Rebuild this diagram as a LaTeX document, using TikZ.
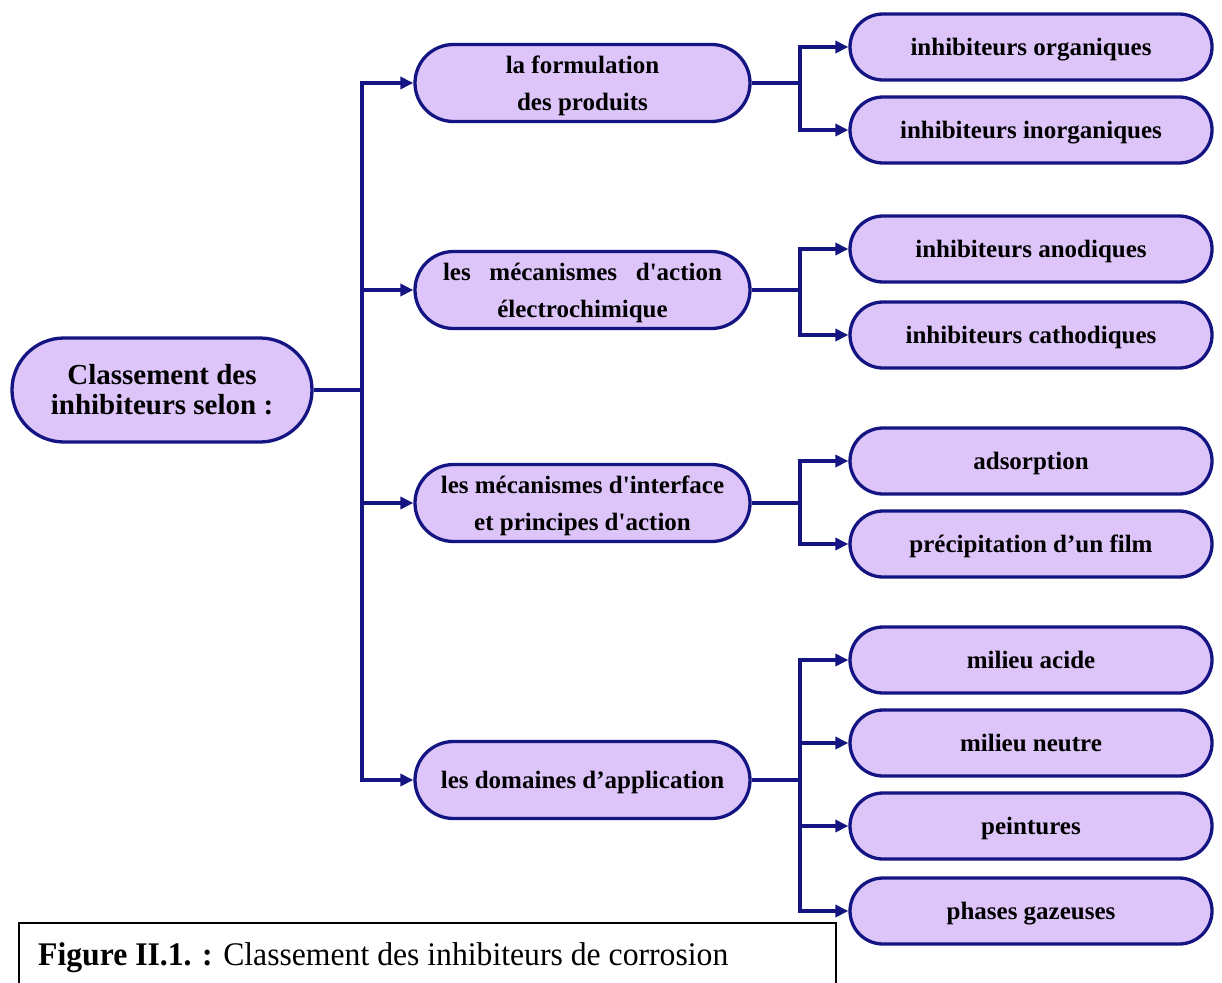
\documentclass[tikz,border=0pt]{standalone}
\usepackage{fontspec}
\setmainfont{Liberation Serif}
\usetikzlibrary{shapes.misc,arrows.meta}
\definecolor{navy}{RGB}{20,20,130}
\definecolor{lav}{RGB}{221,197,250}
\tikzset{
  box/.style={rounded rectangle, draw=navy, fill=lav, line width=3.3pt, inner sep=0pt, align=center, font=\bfseries},
  rootbox/.style={box, minimum width=300pt, minimum height=104pt, font=\bfseries\fontsize{29}{30}\selectfont},
  midbox/.style={box, minimum width=335pt, minimum height=77pt, text depth=0pt, font=\bfseries\fontsize{25}{37}\selectfont},
  leafbox/.style={box, minimum width=362pt, minimum height=66pt, text depth=0pt, font=\bfseries\fontsize{25}{30}\selectfont},
  conn/.style={draw=navy, line width=3.3pt},
  arr/.style={conn, -{Triangle[length=13pt,width=12pt]}},
}
\begin{document}
\begin{tikzpicture}[x=1pt,y=-1pt]
\clip (0,0) rectangle (1222,982);
\fill[white] (0,0) rectangle (1222,982);
% root
\node[rootbox] (root) at (162,390) {Classement des\\inhibiteurs selon :};
% mid nodes
\node[midbox] (m1) at (582.5,83) {la formulation\\des produits};
\node[midbox] (m2) at (582.5,290) {\makebox[279pt][s]{les mécanismes d\textquotesingle action}\\électrochimique};
\node[midbox] (m3) at (582.5,503) {les mécanismes d\textquotesingle interface\\et principes d\textquotesingle action};
\node[midbox] (m4) at (582.5,780) {les domaines d’application};
% leaves
\node[leafbox] (l1) at (1031,47) {inhibiteurs organiques};
\node[leafbox] (l2) at (1031,130) {inhibiteurs inorganiques};
\node[leafbox] (l3) at (1031,249) {inhibiteurs anodiques};
\node[leafbox] (l4) at (1031,335) {inhibiteurs cathodiques};
\node[leafbox] (l5) at (1031,461) {adsorption};
\node[leafbox] (l6) at (1031,544) {précipitation d’un film};
\node[leafbox] (l7) at (1031,660) {milieu acide};
\node[leafbox] (l8) at (1031,743) {milieu neutre};
\node[leafbox] (l9) at (1031,826) {peintures};
\node[leafbox] (l10) at (1031,911) {phases gazeuses};
% connectors
\coordinate (t) at (362,390);
\draw[conn] (root.east) -- (t);
\draw[arr] (t) |- (m1.west);
\draw[arr] (t) |- (m2.west);
\draw[arr] (t) |- (m3.west);
\draw[arr] (t) |- (m4.west);
\coordinate (b1) at (800,83);
\coordinate (b2) at (800,290);
\coordinate (b3) at (800,503);
\coordinate (b4) at (800,780);
\draw[conn] (m1.east) -- (b1);
\draw[conn] (m2.east) -- (b2);
\draw[conn] (m3.east) -- (b3);
\draw[conn] (m4.east) -- (b4);
\draw[arr] (b1) |- (l1.west);
\draw[arr] (b1) |- (l2.west);
\draw[arr] (b2) |- (l3.west);
\draw[arr] (b2) |- (l4.west);
\draw[arr] (b3) |- (l5.west);
\draw[arr] (b3) |- (l6.west);
\draw[arr] (b4) |- (l7.west);
\draw[arr] (b4) |- (l8.west);
\draw[arr] (b4) |- (l9.west);
\draw[arr] (b4) |- (l10.west);
% caption
\node[draw=black, line width=1.5pt, minimum width=817pt, minimum height=90pt, anchor=north west, inner sep=0pt] (capbox) at (18,922) {};
\node[anchor=base west, inner sep=0pt, xscale=0.96, transform shape, font=\fontsize{33}{36}\selectfont] (cap) at (38,965) {\textbf{Figure II.1. :} Classement des inhibiteurs de corrosion};
\end{tikzpicture}
\end{document}
